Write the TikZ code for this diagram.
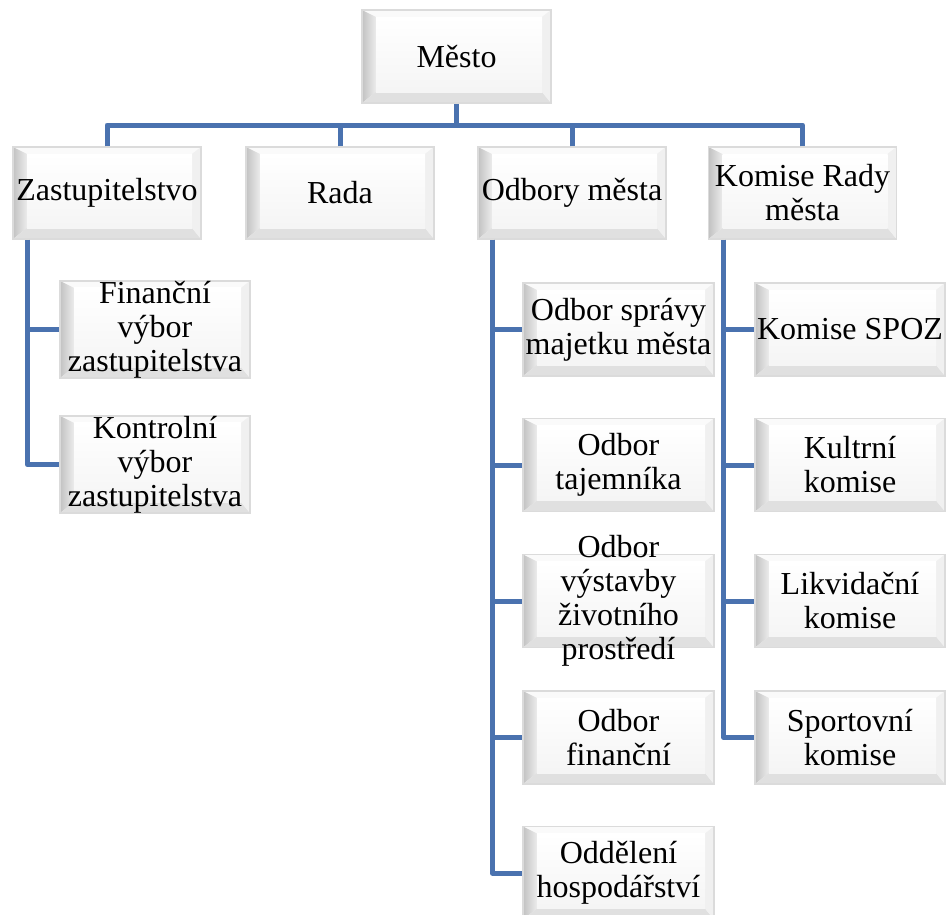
\documentclass[tikz,border=0pt]{standalone}
\usepackage{fontspec}
\setmainfont{Liberation Serif}
\usetikzlibrary{calc}
\definecolor{connblue}{RGB}{74,114,175}
\begin{document}
\begin{tikzpicture}[x=1pt,y=-1pt]
\tikzset{
 boxfont/.style={font=\fontsize{32}{34}\selectfont},
 bevbox/.style={draw=gray!28, line width=1.5pt, fill=gray!8, inner sep=0pt, align=center,
   boxfont, minimum height=93pt, minimum width=190pt,
   path picture={
   \coordinate (bsw) at (path picture bounding box.south west);
   \coordinate (bne) at (path picture bounding box.north east);
   \coordinate (bnw) at (bsw|-bne);
   \coordinate (bse) at (bne|-bsw);
   \coordinate (isw) at ([shift={(14pt,11pt)}]bsw);
   \coordinate (ine) at ([shift={(-9pt,-7pt)}]bne);
   \coordinate (inw) at (isw|-ine);
   \coordinate (ise) at (ine|-isw);
   \fill[gray!4] (bnw) -- (bne) -- (ine) -- (inw) -- cycle;
   \shade[left color=gray!48, right color=gray!15] (bnw) -- (inw) -- (isw) -- (bsw) -- cycle;
   \fill[gray!24] (bsw) -- (isw) -- (ise) -- (bse) -- cycle;
   \fill[gray!12] (bse) -- (ise) -- (ine) -- (bne) -- cycle;
   \shade[top color=white, bottom color=gray!8] (isw) rectangle (ine);
 }},
 conn/.style={draw=connblue, line width=5pt, line join=round}
}
\useasboundingbox (0,0) rectangle (952,914);

\node[bevbox, minimum width=189pt] (m) at (456.5,56.5) {Město};

\node[bevbox, minimum width=188pt, minimum height=92pt] (z) at (107,193) {Zastupitelstvo};
\node[bevbox, minimum width=188pt, minimum height=92pt] (r) at (340,193) {Rada};
\node[bevbox, minimum width=188pt, minimum height=92pt] (o) at (572,193) {Odbory města};
\node[bevbox, minimum width=188pt, minimum height=92pt] (k) at (802.5,193) {Komise Rady\\města};

\node[bevbox] (zf) at (155,329.5) {Finanční\\výbor\\zastupitelstva};
\node[bevbox] (zk) at (155,464.5) {Kontrolní\\výbor\\zastupitelstva};

\node[bevbox, minimum width=191pt] (o1) at (618.5,329.5) {Odbor správy\\majetku města};
\node[bevbox, minimum width=191pt] (o2) at (618.5,465) {Odbor\\tajemníka};
\node[bevbox, minimum width=191pt, label={[align=center, boxfont, inner sep=0pt]center:Odbor\\výstavby\\životního\\prostředí}] (o3) at (618.5,601) {};
\node[bevbox, minimum width=191pt] (o4) at (618.5,737.5) {Odbor\\finanční};
\node[bevbox, minimum width=191pt] (o5) at (618.5,873) {Oddělení\\hospodářství};

\node[bevbox] (k1) at (850,329.5) {Komise SPOZ};
\node[bevbox] (k2) at (850,465) {Kultrní\\komise};
\node[bevbox] (k3) at (850,601) {Likvidační\\komise};
\node[bevbox] (k4) at (850,737.5) {Sportovní\\komise};

\coordinate (bus) at (456.5,125);
\draw[conn] (m.south) -- (bus);
\draw[conn] (z.north) |- (bus);
\draw[conn] (k.north) |- (bus);
\draw[conn] (r.north) -- (r.north|-bus);
\draw[conn] (o.north) -- (o.north|-bus);

\draw[conn] ([xshift=15pt]z.south west) |- (zf.west);
\draw[conn] ([xshift=15pt]z.south west) |- (zk.west);

\draw[conn] ([xshift=15pt]o.south west) |- (o1.west);
\draw[conn] ([xshift=15pt]o.south west) |- (o2.west);
\draw[conn] ([xshift=15pt]o.south west) |- (o3.west);
\draw[conn] ([xshift=15pt]o.south west) |- (o4.west);
\draw[conn] ([xshift=15pt]o.south west) |- (o5.west);

\draw[conn] ([xshift=16pt]k.south west) |- (k1.west);
\draw[conn] ([xshift=16pt]k.south west) |- (k2.west);
\draw[conn] ([xshift=16pt]k.south west) |- (k3.west);
\draw[conn] ([xshift=16pt]k.south west) |- (k4.west);
\end{tikzpicture}
\end{document}
